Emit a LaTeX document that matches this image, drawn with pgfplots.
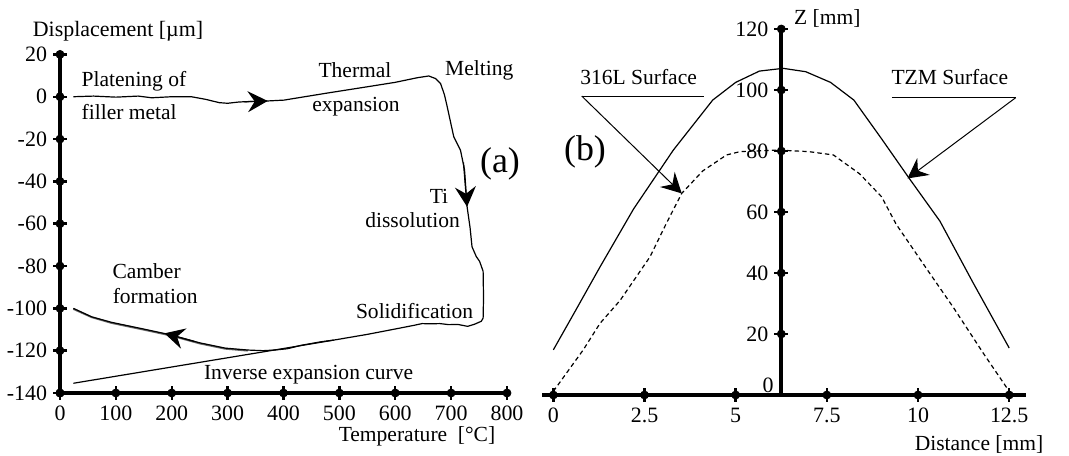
\documentclass[border=0pt]{standalone}
\usepackage{pgfplots}
\pgfplotsset{compat=1.18}
\usepackage{fontspec}
\setmainfont{Liberation Serif}
\usetikzlibrary{arrows.meta}
\begin{document}
\begin{tikzpicture}
\useasboundingbox (0,0) rectangle (534.5bp,228bp);
\tikzset{arr/.style={-{Stealth[length=10bp,width=10.5bp,inset=3.5bp]}},
  ann/.style={font=\fontsize{10.8}{12}\selectfont, inner sep=0pt}}
\pgfplotsset{tk/.style={only marks, mark=none, forget plot}}
% ---------------- panel (a)
\begin{axis}[
  scale only axis, anchor=south west, clip=false,
  at={(30bp,31.5bp)}, width=223.5bp, height=169.3bp,
  xmin=0, xmax=800, ymin=-140, ymax=20,
  axis lines=left,
  axis line style={-, line width=2bp, black},
  tick align=center, major tick length=6bp,
  tick style={line width=1.2bp, black},
  ticklabel style={font=\fontsize{11}{12}\selectfont},
  xtick={0,100,200,300,400,500,600,700,800},
  xticklabels={0,100,200,300,400,500,600,700,800},
  ytick={-140,-120,-100,-80,-60,-40,-20,0,20},
  yticklabels={-140,-120,-100,-80,-60,-40,-20,0,20},
]
% axis lines and tick marks
\addplot[black, line width=2bp, forget plot] coordinates {(0,20) (0,-140) (800,-140)};
\addplot[tk, error bars/.cd, y dir=both, y fixed=3.3, error mark=none,
  error bar style={draw=black, solid, line width=1.2bp}] coordinates {
(0,-140) (100,-140) (200,-140) (300,-140) (400,-140) (500,-140) (600,-140) (700,-140) (800,-140)};
\addplot[tk, error bars/.cd, x dir=both, x fixed=12.5, error mark=none,
  error bar style={draw=black, solid, line width=1.2bp}] coordinates {
(0,-140) (0,-120) (0,-100) (0,-80) (0,-60) (0,-40) (0,-20) (0,0) (0,20)};
% data
\addplot[black, line width=0.6bp] coordinates {
(23.9,0) (60,0.3) (100,-0.2) (140,0.3) (164,-0.5) (200,0) (235,0) (260,-1.2)
(285,-2.8) (300,-3.1) (320,-2.5) (345,-2.2) (371.8,-2) (401,-1.6) (431,-0.3)
(480,1.8) (550,4.7) (600,6.8) (640,9) (660,9.8) (672,8.6) (681,6.3) (688,1)
(693,-4.7) (704.7,-18.9) (716.7,-25.2) (724,-34.5) (728.6,-52) (734,-62)
(737.4,-70.9) (745,-75.5) (751,-77.8) (757.3,-82.5) (758,-95) (757.3,-104.6)
(754,-106.1) (742,-107.5) (729.5,-108.5) (712,-107.6) (695.8,-107.7) (680,-107.2)
(662,-107.3) (648,-107.2) (634,-108) (605,-109.5) (550,-112.3) (490,-115)
(467,-115.8) (431,-117.5) (406.6,-119.1) (383.6,-119.7) (363.5,-120) (336,-119.7)
(295.8,-118.8) (250,-116.3) (197.5,-112.5) (150,-109.8) (92,-106.6) (56.6,-104)
(23.9,-100)};
\addplot[black, line width=0.6bp] coordinates {(23.9,-135.4) (383.6,-119.7) (490,-115.0)};
\addplot[black, line width=0.9bp, opacity=0.6] coordinates {(23.9,-100.3) (56.6,-104.2) (92,-106.9) (150,-110.1) (197.5,-112.8) (250,-116.6) (295.8,-119.1) (336,-120)};
\addplot[arr, black, line width=0.6bp] coordinates {(330,-2.4) (371.8,-2)};
\addplot[arr, black, line width=0.6bp] coordinates {(722,-31) (728.6,-52)};
\addplot[arr, black, line width=0.6bp] coordinates {(240,-115.6) (187,-111.8)};
\end{axis}
% ---------------- panel (b)
\begin{axis}[
  scale only axis, anchor=south west, clip=false,
  at={(271.2bp,30.5bp)}, width=241.6bp, height=183bp,
  xmin=-6.55, xmax=6.7, ymin=0, ymax=120,
  axis lines=middle,
  axis line style={-, line width=2bp, black},
  tick align=center, major tick length=6bp,
  tick style={line width=1.2bp, black},
  ticklabel style={font=\fontsize{11}{12}\selectfont},
  x filter/.expression={x-6.25},
  xtick={-6.25,-3.75,-1.25,1.25,3.75,6.25},
  xticklabels={0,2.5,5,7.5,10,12.5},
  xticklabel style={anchor=north},
  ytick={20,40,60,80,100,120},
  yticklabels={20,40,60,80,100,120},
  yticklabel style={anchor=east},
]
% axis lines and tick marks
\addplot[black, line width=2bp, forget plot] coordinates {(-0.3,0) (12.95,0)};
\addplot[black, line width=2bp, forget plot] coordinates {(6.25,0) (6.25,120)};
\addplot[tk, error bars/.cd, y dir=both, y fixed=2.3, error mark=none,
  error bar style={draw=black, solid, line width=1.2bp}] coordinates {
(0,0) (2.5,0) (5,0) (7.5,0) (10,0) (12.5,0)};
\addplot[tk, error bars/.cd, x dir=both, x fixed=0.19, error mark=none,
  error bar style={draw=black, solid, line width=1.2bp}] coordinates {
(6.25,20) (6.25,40) (6.25,60) (6.25,80) (6.25,100) (6.25,120)};
% data
\addplot[black, line width=0.6bp] coordinates {
(0,14.8) (0.6,27.5) (1.28,42) (2.2,61) (3.29,80.3) (4.37,96.7) (5.0,102.5)
(5.65,106.2) (6.3,107.1) (6.92,106) (7.6,102.5) (8.24,96.7) (9.0,84) (9.76,71)
(10.6,57) (11.5,37) (12.5,15.4)};
\addplot[black, line width=0.6bp, dash pattern=on 2.2bp off 1.6bp] coordinates {
(0,1.2) (0.82,14.8) (1.28,23.5) (1.83,31) (2.65,45.3) (3.1,56.3) (3.52,66.1)
(4.1,73.5) (4.75,78.7) (5.12,79.8) (6.16,80.3) (7.0,79.8) (7.68,78.7) (8.4,72.5)
(9.0,65) (9.4,56) (10.2,42) (10.98,28.5) (11.8,13.5) (12.5,1.2)};
\addplot[black, line width=0.5bp] coordinates {(0.78,98) (4.13,98)};
\addplot[arr, black, line width=0.5bp] coordinates {(0.78,98) (3.52,66.1)};
\addplot[black, line width=0.5bp] coordinates {(9.28,97.5) (12.68,97.5)};
\addplot[arr, black, line width=0.5bp] coordinates {(12.68,97.5) (9.71,71)};
\end{axis}
% ---------------- texts
\node[font=\fontsize{11}{12}\selectfont] at (59bp,212.2bp) {Displacement [µm]};
\node[ann] at (67bp,187.2bp) {Platening of};
\node[ann] at (64.6bp,172.2bp) {filler metal};
\node[ann] at (177.5bp,193bp) {Thermal};
\node[ann] at (178bp,174.7bp) {expansion};
\node[ann] at (239.6bp,193bp) {Melting};
\node[font=\fontsize{18}{20}\selectfont] at (250bp,146.3bp) {(a)};
\node[ann] at (219.5bp,130bp) {Ti};
\node[ann] at (206.3bp,118bp) {dissolution};
\node[ann] at (73.3bp,92.4bp) {Camber};
\node[ann] at (77.6bp,79.9bp) {formation};
\node[ann] at (207.3bp,72.3bp) {Solidification};
\node[ann] at (154.3bp,40.7bp) {Inverse expansion curve};
\node[ann] at (208.5bp,9.9bp) {Temperature~~[°C]};
\node[ann] at (319.3bp,189.7bp) {316L Surface};
\node[ann] at (474.9bp,189.7bp) {TZM Surface};
\node[font=\fontsize{18}{20}\selectfont] at (292.5bp,152.2bp) {(b)};
\node[ann, anchor=west] at (396.9bp,218.9bp) {Z [mm]};
\node[ann] at (489.5bp,6bp) {Distance [mm]};
\node[font=\fontsize{11}{12}\selectfont] at (384bp,35.5bp) {0};
\end{tikzpicture}
\end{document}
